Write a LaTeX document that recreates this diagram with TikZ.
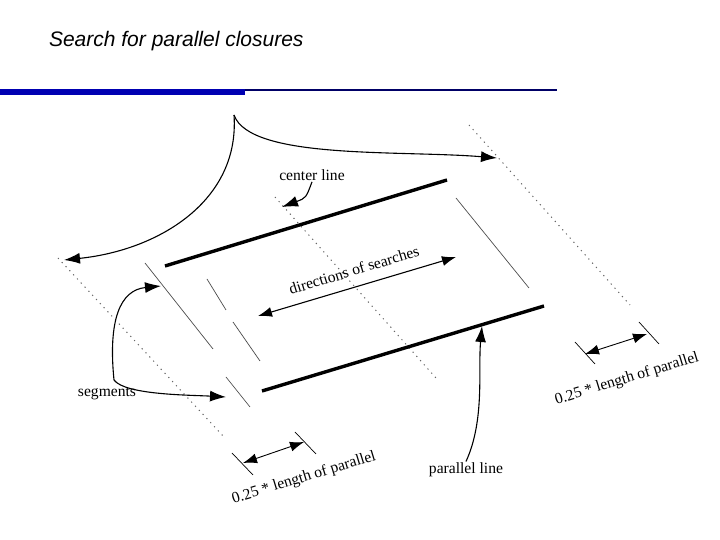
\documentclass[tikz,border=0pt]{standalone}
\usepackage{fontspec}
\setmainfont{Liberation Serif}
\newfontfamily\titlefont{Liberation Sans}
\usepackage{tikz}
\usetikzlibrary{arrows.meta}

\begin{document}
\begin{tikzpicture}[x=0.5pt,y=-0.5pt,
  thickln/.style={line width=1.7pt},
  thinln/.style={line width=0.35pt,gray!60!black},
  dotln/.style={line width=0.5pt,gray!80!black,dash pattern=on 0.6pt off 2.2pt},
  arr/.style={-{Latex[length=8pt,width=5.5pt]},line width=0.55pt},
  dim/.style={{Latex[length=7pt,width=5pt]}-{Latex[length=7pt,width=5pt]},line width=0.45pt},
  lbl/.style={font=\fontsize{7.8}{9}\selectfont,inner sep=0.5pt}]
\useasboundingbox (0,0) rectangle (720,540);
% title and rule
\node[anchor=west,font=\titlefont\itshape\fontsize{10.5}{12}\selectfont] (title) at (42,41) {Search for parallel closures};
\draw[line width=1pt,blue!40!black] (0,90) -- (557,90);
\fill[blue!70!black] (0,89) rectangle (245,95);
% dotted guides
\draw[dotln] (58,258) -- (224,437);
\draw[dotln] (275,197) -- (436,378);
\draw[dotln] (469,125) -- (630,305);
% parallel lines
\draw[thickln] (165,266) -- (447,180);
\draw[thickln] (262,391) -- (544,306);
\coordinate (pl) at (482,326);
% segments
\draw[thinln] (456,198) -- (529,288);
\draw[thinln] (145,263) -- (213,349);
\draw[thinln] (207,279) -- (226,310);
\draw[thinln] (233,322) -- (260,361);
\draw[thinln] (226,377) -- (250,407);
\coordinate (s1) at (161,286);
\coordinate (s2) at (226,397);
% dimension marks
\draw[thinln,black] (232,453) -- (253,475);
\draw[thinln,black] (295,432) -- (316,454);
\coordinate (d1) at (243,463);
\coordinate (d2) at (304,442);
\draw[dim] (d1) -- (d2);
\draw[thinln,black] (575,342) -- (595,364);
\draw[thinln,black] (639,322) -- (659,344);
\coordinate (d3) at (585,354);
\coordinate (d4) at (647,334);
\draw[dim] (d3) -- (d4);
% search arrow
\coordinate (sa) at (258,316);
\coordinate (sb) at (456,257);
\draw[dim,line width=0.55pt] (sa) -- (sb);
% labels
\node[lbl] (cl) at (312,175) {center line};
\node[lbl,rotate=17] (ds) at (354,270) {directions of searches};
\node[lbl] (sg) at (107,394) {segments};
\node[lbl] (pll) at (466,470) {parallel line};
\node[lbl,rotate=17] (q1) at (304,478) {0.25 * length of parallel};
\node[lbl,rotate=17] (q2) at (627,379) {0.25 * length of parallel};
% cusp arrows
\coordinate (cusp) at (234,115);
\coordinate (lend) at (64,260);
\coordinate (rend) at (497,158);
\draw[arr] (cusp) .. controls (240,200) and (160,250) .. (lend);
\draw[arr] (cusp) .. controls (250,160) and (400,150) .. (rend);
\draw[arr] (cl.south) .. controls (306,198) .. (282,207);
\draw[arr] (114,380) .. controls (108,320) and (120,290) .. (s1);
\draw[arr] (114,380) .. controls (125,395) and (190,395) .. (s2);
\draw[arr] (pll.north) .. controls (485,420) and (478,370) .. (pl);
\end{tikzpicture}
\end{document}
